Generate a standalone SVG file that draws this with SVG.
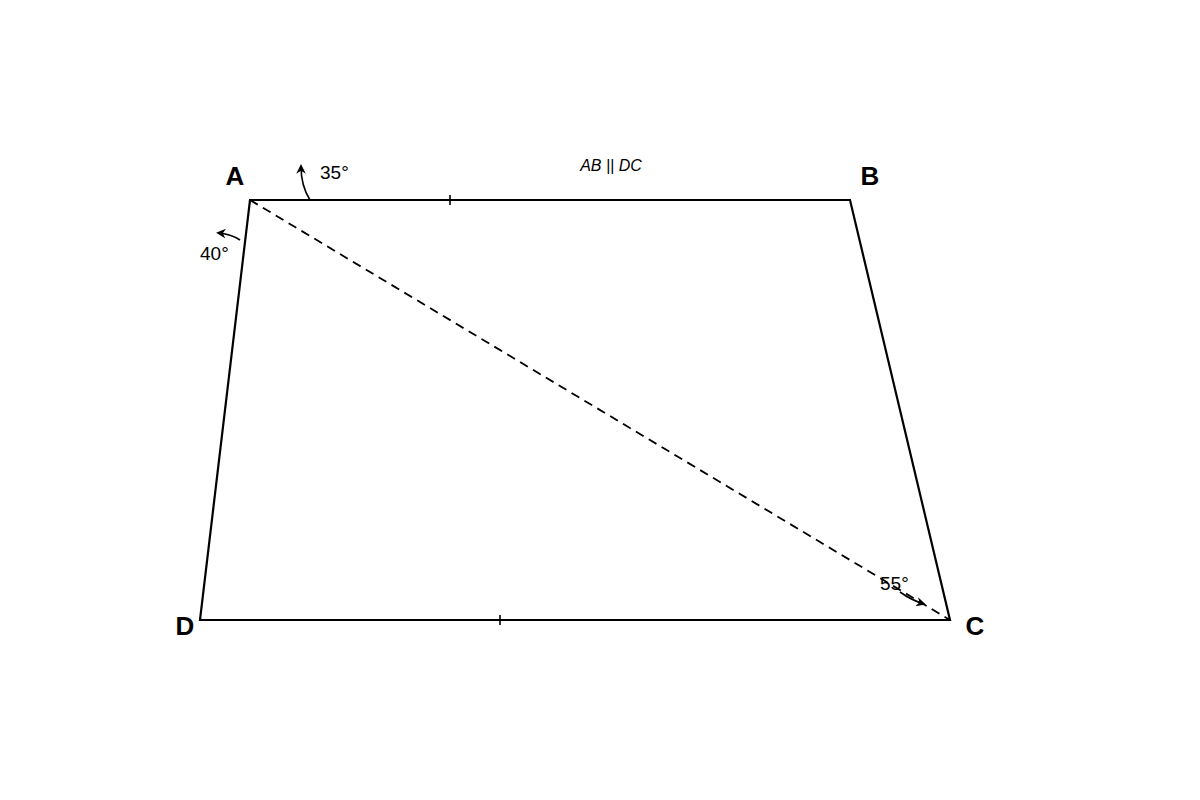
<svg xmlns="http://www.w3.org/2000/svg" width="1200" height="800" viewBox="0 0 1200 800">
<style>
.edge{stroke:#000;stroke-width:2.2;fill:none}
.dash{stroke:#000;stroke-width:1.8;fill:none;stroke-dasharray:9,6}
.tick{stroke:#000;stroke-width:1.6}
.arc{stroke:#000;stroke-width:1.6;fill:none}
.vlab{font-family:"Liberation Sans",Arial,sans-serif;font-weight:bold;font-size:26px;fill:#000;text-anchor:middle}
.ang{font-family:"Liberation Sans",Arial,sans-serif;font-size:19px;fill:#000}
.note{font-family:"Liberation Sans",Arial,sans-serif;font-style:italic;font-size:16px;fill:#000;text-anchor:middle}
</style>
<defs>
<marker id="ah" viewBox="0 0 10 10" refX="8" refY="5" markerWidth="6" markerHeight="6" orient="auto-start-reverse">
<path d="M0,0 L10,5 L0,10 L3,5 Z" fill="#000"/>
</marker>
</defs>
<rect width="1200" height="800" fill="#fff"/>
<g id="connectors">
<path class="edge" d="M250,200 L850,200 L950,620 L200,620 Z"/>
<path class="dash" d="M250,200 L950,620"/>
<line class="tick" x1="450" y1="195" x2="450" y2="205"/>
<line class="tick" x1="500" y1="615" x2="500" y2="625"/>
<path class="arc" d="M310,200 Q301,186 301,166" marker-end="url(#ah)"/>
<path class="arc" d="M240,240 Q231,234 218,233" marker-end="url(#ah)"/>
<path class="arc" d="M900,592 Q911,600 924,604" marker-end="url(#ah)"/>
</g>
<g id="node-A"><text class="vlab" x="235" y="185">A</text></g>
<g id="node-B"><text class="vlab" x="870" y="185">B</text></g>
<g id="node-C"><text class="vlab" x="975" y="635">C</text></g>
<g id="node-D"><text class="vlab" x="185" y="635">D</text></g>
<g id="angle-35"><text class="ang" x="320" y="179">35°</text></g>
<g id="angle-40"><text class="ang" x="200" y="260">40°</text></g>
<g id="angle-55"><text class="ang" x="880" y="590">55°</text></g>
<g id="parallel-note"><text class="note" x="611" y="171">AB || DC</text></g>
</svg>
